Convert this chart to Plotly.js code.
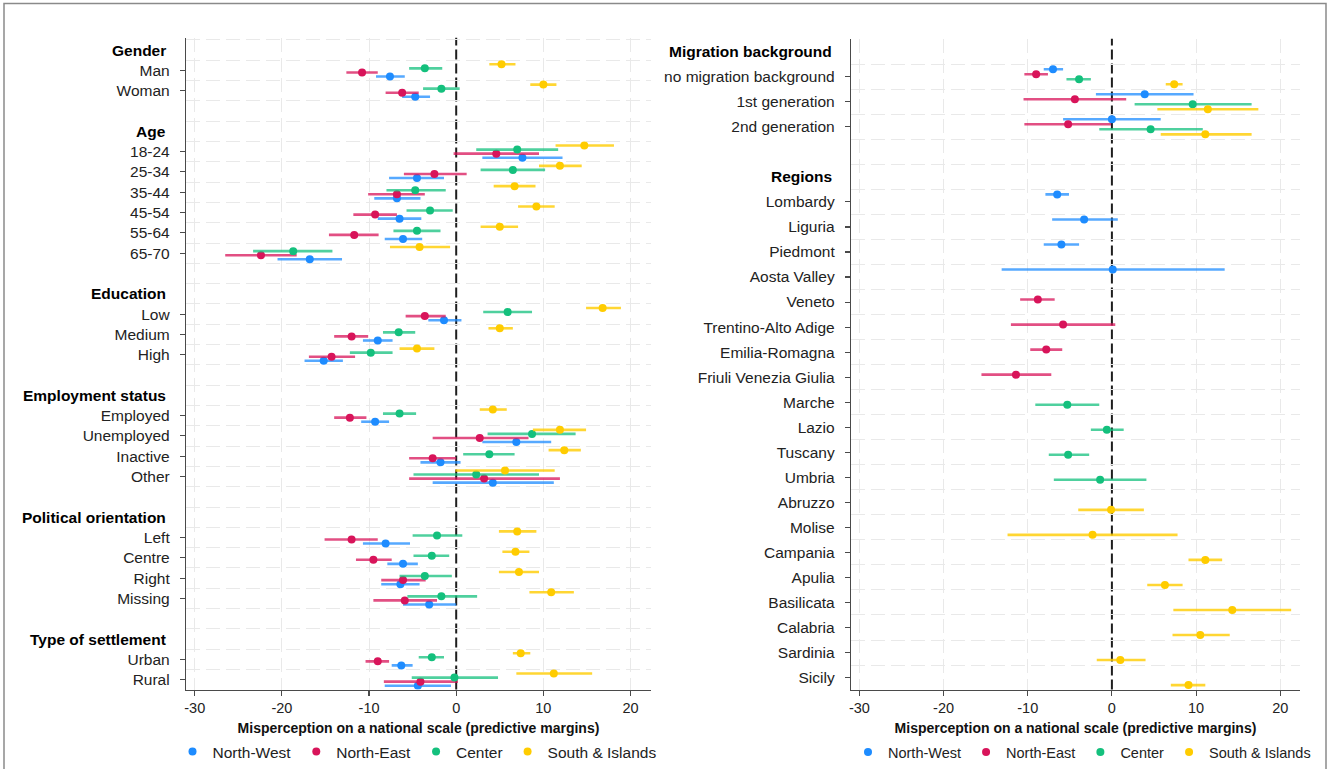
<!DOCTYPE html>
<html>
<head>
<meta charset="utf-8">
<script src="https://cdn.plot.ly/plotly-3.0.1.min.js"></script>
<style>
  html, body { margin: 0; padding: 0; background: #ffffff; }
  #chart { width: 1329px; height: 769px; }
</style>
</head>
<body>
<div id="chart"></div>
<script>
// ---------- Left panel: socio-demographic characteristics ----------
const leftHeaders = ['Gender', 'Age', 'Education', 'Employment status', 'Political orientation', 'Type of settlement'];
const leftGroupItems = [
  ['Man', 'Woman'],
  ['18-24', '25-34', '35-44', '45-54', '55-64', '65-70'],
  ['Low', 'Medium', 'High'],
  ['Employed', 'Unemployed', 'Inactive', 'Other'],
  ['Left', 'Centre', 'Right', 'Missing'],
  ['Urban', 'Rural']
];

// Predictive margins and 95% intervals, one entry per item above (in order)
const leftNW_est = [-7.6, -4.7, 7.6, -4.5, -6.8, -6.5, -6.1, -16.8, -1.4, -9.0, -15.2, -9.3, 6.9, -1.8, 4.2, -8.1, -6.1, -6.4, -3.1, -6.3, -4.4];
const leftNW_lo  = [-9.2, -6.2, 3.0, -7.7, -9.4, -9.0, -8.2, -20.5, -3.2, -10.7, -17.4, -10.9, 3.0, -4.1, -2.7, -10.7, -7.9, -8.6, -6.1, -7.4, -8.2];
const leftNW_hi  = [-5.9, -3.0, 12.2, -1.4, -4.1, -4.0, -3.9, -13.1, 0.6, -7.3, -13.0, -7.7, 10.9, 0.5, 11.2, -5.3, -4.4, -4.2, 0.0, -5.0, -0.6];

const leftNE_est = [-10.8, -6.2, 4.6, -2.5, -6.8, -9.3, -11.7, -22.4, -3.6, -12.0, -14.3, -12.2, 2.7, -2.7, 3.2, -12.0, -9.5, -6.1, -5.9, -9.0, -4.1];
const leftNE_lo  = [-12.6, -8.1, -0.3, -6.0, -10.1, -11.8, -14.6, -26.5, -5.8, -14.0, -16.9, -14.0, -2.7, -5.4, -5.4, -15.1, -11.5, -8.6, -9.5, -10.4, -8.3];
const leftNE_hi  = [-9.0, -4.3, 9.5, 1.2, -3.6, -6.8, -8.9, -18.3, -1.2, -10.1, -11.6, -10.3, 8.3, 0.0, 11.9, -9.0, -7.4, -3.5, -2.2, -7.7, 0.2];

const leftCE_est = [-3.6, -1.7, 7.0, 6.5, -4.7, -3.0, -4.5, -18.7, 5.9, -6.6, -9.8, -6.5, 8.7, 3.8, 2.3, -2.2, -2.8, -3.6, -1.7, -2.8, -0.2];
const leftCE_lo  = [-5.4, -3.8, 2.3, 2.8, -8.0, -5.7, -7.2, -23.3, 3.1, -8.4, -12.2, -8.4, 3.6, 0.8, -4.9, -5.0, -4.9, -6.5, -5.6, -4.3, -5.1];
const leftCE_hi  = [-1.6, 0.4, 11.7, 10.2, -1.2, -0.4, -1.8, -14.2, 8.7, -4.7, -7.3, -4.6, 13.7, 6.7, 9.5, 0.7, -0.8, -0.5, 2.4, -1.4, 4.8];

const leftSI_est = [5.2, 10.0, 14.7, 11.9, 6.7, 9.2, 5.0, -4.2, 16.8, 5.0, -4.5, 4.2, 11.9, 12.4, 5.6, 7.0, 6.8, 7.2, 10.9, 7.4, 11.2];
const leftSI_lo  = [3.8, 8.5, 11.4, 9.5, 4.3, 7.1, 2.8, -7.6, 14.9, 3.7, -6.5, 2.7, 8.8, 10.6, -0.1, 4.9, 5.3, 4.9, 8.4, 6.5, 6.9];
const leftSI_hi  = [6.8, 11.5, 18.1, 14.4, 9.1, 11.3, 7.1, -0.7, 18.9, 6.5, -2.5, 5.8, 14.9, 14.3, 11.3, 9.2, 8.4, 9.5, 13.5, 8.5, 15.6];

// ---------- Right panel: migration background and regions ----------
const rightHeaders = ['Migration background', 'Regions'];
const rightGroupItems = [
  ['no migration background', '1st generation', '2nd generation'],
  ['Lombardy', 'Liguria', 'Piedmont', 'Aosta Valley', 'Veneto', 'Trentino-Alto Adige', 'Emilia-Romagna',
   'Friuli Venezia Giulia', 'Marche', 'Lazio', 'Tuscany', 'Umbria', 'Abruzzo', 'Molise', 'Campania',
   'Apulia', 'Basilicata', 'Calabria', 'Sardinia', 'Sicily']
];
const _ = null;
const rightNW_est = [-7.0, 3.9, 0.0, -6.5, -3.3, -6.0, 0.1, _, _, _, _, _, _, _, _, _, _, _, _, _, _, _, _];
const rightNW_lo  = [-8.1, -1.9, -5.8, -7.9, -7.1, -8.1, -13.1, _, _, _, _, _, _, _, _, _, _, _, _, _, _, _, _];
const rightNW_hi  = [-5.8, 9.7, 5.8, -5.1, 0.7, -3.9, 13.4, _, _, _, _, _, _, _, _, _, _, _, _, _, _, _, _];

const rightNE_est = [-9.0, -4.4, -5.2, _, _, _, _, -8.8, -5.8, -7.8, -11.4, _, _, _, _, _, _, _, _, _, _, _, _];
const rightNE_lo  = [-10.4, -10.5, -10.4, _, _, _, _, -10.9, -12.0, -9.7, -15.5, _, _, _, _, _, _, _, _, _, _, _, _];
const rightNE_hi  = [-7.6, 1.7, -0.1, _, _, _, _, -6.8, 0.4, -5.9, -7.2, _, _, _, _, _, _, _, _, _, _, _, _];

const rightCE_est = [-3.9, 9.6, 4.6, _, _, _, _, _, _, _, _, -5.3, -0.6, -5.2, -1.4, _, _, _, _, _, _, _, _];
const rightCE_lo  = [-5.4, 2.7, -1.5, _, _, _, _, _, _, _, _, -9.1, -2.5, -7.5, -6.9, _, _, _, _, _, _, _, _];
const rightCE_hi  = [-2.5, 16.6, 10.8, _, _, _, _, _, _, _, _, -1.5, 1.4, -2.7, 4.1, _, _, _, _, _, _, _, _];

const rightSI_est = [7.4, 11.4, 11.1, _, _, _, _, _, _, _, _, _, _, _, _, -0.1, -2.3, 11.1, 6.3, 14.3, 10.5, 1.0, 9.1];
const rightSI_lo  = [6.4, 5.4, 5.8, _, _, _, _, _, _, _, _, _, _, _, _, -4.0, -12.4, 9.1, 4.2, 7.3, 7.2, -1.8, 7.0];
const rightSI_hi  = [8.4, 17.4, 16.6, _, _, _, _, _, _, _, _, _, _, _, _, 3.8, 7.8, 13.1, 8.4, 21.3, 14.0, 4.0, 11.1];

const seriesNames = ['North-West', 'North-East', 'Center', 'South & Islands'];
const xTicks = [-30, -20, -10, 0, 10, 20];
const xTitle = 'Misperception on a national scale (predictive margins)';

// ---------- styling ----------
const W = 1329, H = 769;
const dotColors = ['#1e8cff', '#d8145a', '#14c07d', '#ffcc00'];
const barColors = ['rgba(30,140,255,0.75)', 'rgba(216,20,90,0.75)', 'rgba(20,192,125,0.75)', 'rgba(255,204,0,0.8)'];
const FONT = 'Liberation Sans, Arial, sans-serif';
const px = v => v / W;
const py = v => 1 - v / H;

// One header row, then the group's items, then an empty spacer row.
function buildRows(headers, groups) {
  const headerRows = [], itemRows = [], itemLabels = [];
  let r = 0;
  headers.forEach((h, i) => {
    headerRows.push(r); r++;
    groups[i].forEach(lbl => { itemRows.push(r); itemLabels.push(lbl); r++; });
    r++;
  });
  return { headerRows, itemRows, itemLabels };
}

const leftRows = buildRows(leftHeaders, leftGroupItems);
const rightRows = buildRows(rightHeaders, rightGroupItems);

function makeTrace(k, est, lo, hi, rows, offset, xa, ya, legendId) {
  const xs = [], ys = [], plus = [], minus = [];
  est.forEach((v, i) => {
    if (v === null) return;
    xs.push(v);
    ys.push(rows.itemRows[i] + offset);
    plus.push(hi[i] - v);
    minus.push(v - lo[i]);
  });
  return {
    type: 'scatter', mode: 'markers', name: seriesNames[k],
    x: xs, y: ys, xaxis: xa, yaxis: ya, legend: legendId,
    marker: { color: dotColors[k], size: 8 },
    error_x: { type: 'data', symmetric: false, array: plus, arrayminus: minus,
               color: barColors[k], thickness: 2.6, width: 0 },
    hoverinfo: 'x+name'
  };
}

// vertical dodge within each row
const leftOffsets  = [0.3, 0.1, -0.1, -0.3];
const rightOffsets = [-0.3, -0.1, 0.1, 0.3];

const leftData = [
  [leftNW_est, leftNW_lo, leftNW_hi], [leftNE_est, leftNE_lo, leftNE_hi],
  [leftCE_est, leftCE_lo, leftCE_hi], [leftSI_est, leftSI_lo, leftSI_hi]
];
const rightData = [
  [rightNW_est, rightNW_lo, rightNW_hi], [rightNE_est, rightNE_lo, rightNE_hi],
  [rightCE_est, rightCE_lo, rightCE_hi], [rightSI_est, rightSI_lo, rightSI_hi]
];

const traces = [];
leftData.forEach((d, k) => traces.push(makeTrace(k, d[0], d[1], d[2], leftRows, leftOffsets[k], 'x', 'y', 'legend')));
rightData.forEach((d, k) => traces.push(makeTrace(k, d[0], d[1], d[2], rightRows, rightOffsets[k], 'x2', 'y2', 'legend2')));

function halfRows(n) { const a = []; for (let i = -0.5; i <= n + 0.5; i += 1) a.push(i); return a; }

const gridStyle = { gridcolor: '#e9e9e9', griddash: '14px,6px', gridwidth: 1 };

function xAxis(domain, anchor) {
  return {
    domain, anchor, range: [-31.0, 22.35], tickvals: xTicks, ticktext: xTicks.map(String),
    showgrid: false, zeroline: false, showline: true, linecolor: '#4a4a4a', linewidth: 1.2,
    ticks: 'outside', ticklen: 5, tickcolor: '#4a4a4a', tickwidth: 1.1,
    tickfont: { family: FONT, size: 14.5, color: '#222' },
    // vertical guides at every tick except 0, where the dashed reference line sits
    minor: Object.assign({ tickvals: xTicks.filter(v => v !== 0), showgrid: true, ticks: '' }, gridStyle),
    title: { text: xTitle, font: { family: FONT, size: 14, color: '#111', weight: 'bold' }, standoff: 8 },
    fixedrange: true
  };
}

function yAxis(domain, anchor, rows, range, nRows) {
  return {
    domain, anchor, range, tickmode: 'array', tickvals: rows.itemRows, ticktext: rows.itemLabels,
    showgrid: false, zeroline: false, showline: true, linecolor: '#4a4a4a', linewidth: 1.2,
    ticks: 'outside', ticklen: 5, tickcolor: '#4a4a4a', tickwidth: 1.1,
    tickfont: { family: FONT, size: 15.5, color: '#222' }, ticklabelstandoff: 7,
    minor: Object.assign({ tickvals: halfRows(nRows), showgrid: true, ticks: '' }, gridStyle),
    fixedrange: true
  };
}

const leftNRows = leftRows.itemRows[leftRows.itemRows.length - 1];
const rightNRows = rightRows.itemRows[rightRows.itemRows.length - 1];

const annotations = [];
leftHeaders.forEach((h, i) => annotations.push({
  text: h, xref: 'paper', yref: 'y', x: px(168), y: leftRows.headerRows[i], xanchor: 'right', yanchor: 'middle',
  showarrow: false, font: { family: FONT, size: 15.5, color: '#000', weight: 'bold' }
}));
rightHeaders.forEach((h, i) => annotations.push({
  text: h, xref: 'paper', yref: 'y2', x: px(834), y: rightRows.headerRows[i], xanchor: 'right', yanchor: 'middle',
  showarrow: false, font: { family: FONT, size: 15.5, color: '#000', weight: 'bold' }
}));

const zeroLine = (xr, yr) => ({
  type: 'line', xref: xr, yref: yr, x0: 0, x1: 0, y0: 0, y1: 1, layer: 'below',
  line: { color: '#1e1e1e', width: 2, dash: '10px,4px' }
});

const legendBase = {
  orientation: 'h', yanchor: 'middle', xanchor: 'center', y: py(758),
  bgcolor: 'rgba(0,0,0,0)', itemwidth: 30, tracegroupgap: 0
};

const layout = {
  width: W, height: H,
  margin: { l: 0, r: 0, t: 0, b: 0 },
  paper_bgcolor: '#ffffff', plot_bgcolor: '#ffffff',
  font: { family: FONT },
  showlegend: true,
  xaxis: xAxis([px(186), px(651)], 'y'),
  yaxis: yAxis([py(695), py(38)], 'x', leftRows, [31.49, -0.61], leftNRows),
  xaxis2: xAxis([px(851), px(1300)], 'y2'),
  yaxis2: yAxis([py(695), py(39)], 'x2', rightRows, [25.48, -0.52], rightNRows),
  legend: Object.assign({ x: px(417), font: { family: FONT, size: 15.5, color: '#222' } }, legendBase),
  legend2: Object.assign({ x: px(1082), font: { family: FONT, size: 14.5, color: '#222' } }, legendBase),
  annotations,
  shapes: [
    zeroLine('x', 'y domain'),
    zeroLine('x2', 'y2 domain'),
    { type: 'rect', xref: 'paper', yref: 'paper', x0: px(4), x1: px(1326), y0: -0.05, y1: py(3.5),
      line: { color: '#8a8a8a', width: 1.5 }, fillcolor: 'rgba(0,0,0,0)', layer: 'above' }
  ]
};

Plotly.newPlot('chart', traces, layout, { displayModeBar: false, staticPlot: true });
</script>
</body>
</html>
